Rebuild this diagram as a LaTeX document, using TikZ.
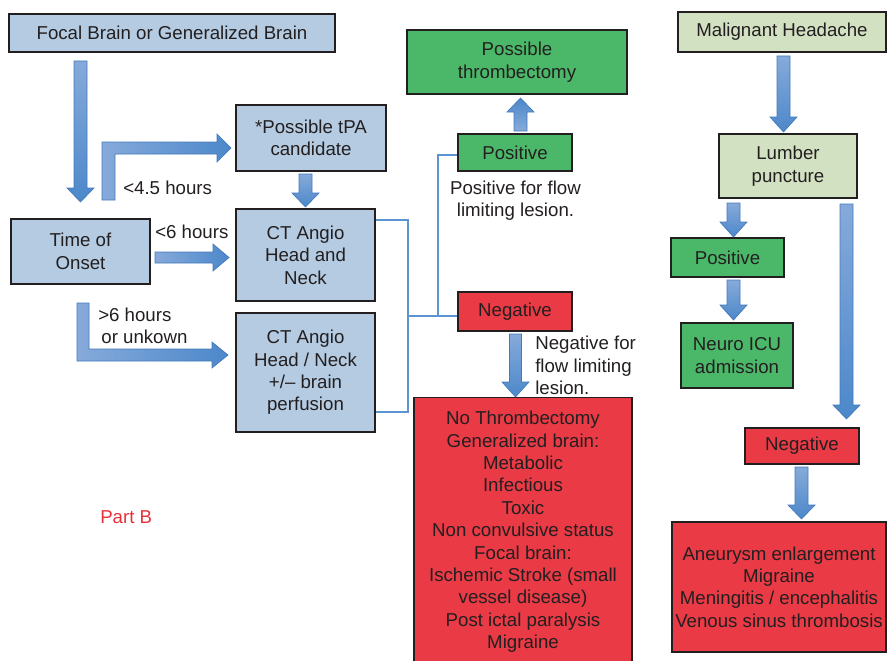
\documentclass[tikz,border=0pt]{standalone}
\usepackage{fontspec}
\setmainfont{Liberation Sans}
\definecolor{boxblue}{HTML}{B4CBE2}
\definecolor{boxgreen}{HTML}{4BB869}
\definecolor{boxred}{HTML}{E93A45}
\definecolor{boxlgreen}{HTML}{D3E1C3}
\definecolor{boxline}{HTML}{231F20}
\definecolor{arrlight}{HTML}{86AADA}
\definecolor{arrdark}{HTML}{4C88CA}
\definecolor{arredge}{HTML}{4479BA}
\definecolor{connblue}{HTML}{5B94D1}
\definecolor{partred}{HTML}{E8303A}
\newcommand\blockv[6][vshade]{%
  \shadedraw[#1] ({#2-#3},#4) -- ({#2+#3},#4) -- ({#2+#3},#5) -- ({#2+13.5},#5) -- (#2,#6) -- ({#2-13.5},#5) -- ({#2-#3},#5) -- cycle;}
\begin{document}
\begin{tikzpicture}[x=0.75pt,y=-0.75pt,
  font=\fontsize{14}{16.8}\selectfont,
  box/.style={draw=boxline, line width=1.1pt, align=center, inner sep=0pt, text=boxline},
  sz/.style 2 args={minimum width=#1*0.75pt, minimum height=#2*0.75pt},
  vshade/.style={top color=arrlight, bottom color=arrdark, draw=arredge, line width=0.5pt},
  ushade/.style={top color=arrdark, bottom color=arrlight, draw=arredge, line width=0.5pt},
  hshade/.style={left color=arrlight, right color=arrdark, draw=arredge, line width=0.5pt},
  conn/.style={draw=connblue, line width=1.5pt},
  lbl/.style={inner sep=0pt, text=boxline}]
\useasboundingbox (0,0) rectangle (887,660);

% left column boxes
\node[box, fill=boxblue, sz={326}{38}] (focal) at (172,33) {Focal Brain or Generalized Brain};
\node[box, fill=boxblue, sz={150}{66}] (tpa) at (311,138) {*Possible tPA\\candidate};
\node[box, fill=boxblue, sz={139}{65}] (onset) at (80.5,251.5) {Time of\\Onset};
\node[box, fill=boxblue, sz={139}{92}] (cta1) at (305.5,255) {CT Angio\\Head and\\Neck};
\node[box, fill=boxblue, sz={139}{119}] (cta2) at (305.5,372.5) {CT Angio\\Head / Neck\\+/-- brain\\perfusion};

% middle column
\node[box, fill=boxgreen, sz={220}{64}] (thromb) at (517,62) {Possible\\thrombectomy};
\node[box, fill=boxgreen, sz={114}{37}] (pos1) at (515,152.5) {Positive};
\node[box, fill=boxred, sz={114}{39}] (neg1) at (515,311.5) {Negative};
\node[box, fill=boxred, anchor=north, minimum width=218*0.75pt, inner ysep=10pt] (nothromb) at (523,397)
  {No Thrombectomy\\Generalized brain:\\Metabolic\\Infectious\\Toxic\\Non convulsive status\\Focal brain:\\Ischemic Stroke (small\\vessel disease)\\Post ictal paralysis\\Migraine};

% right column
\node[box, fill=boxlgreen, sz={208}{40}] (malig) at (782,32) {Malignant Headache};
\node[box, fill=boxlgreen, sz={138}{64}] (lumber) at (788,166) {Lumber\\puncture};
\node[box, fill=boxgreen, sz={113}{39}] (pos2) at (727.5,257.5) {Positive};
\node[box, fill=boxgreen, sz={112}{65}] (neuro) at (737,355.5) {Neuro ICU\\admission};
\node[box, fill=boxred, sz={114}{36}] (neg2) at (802,446) {Negative};
\node[box, fill=boxred, sz={214}{130}] (final) at (779,587) {Aneurysm enlargement\\Migraine\\Meningitis / encephalitis\\Venous sinus thrombosis};

% labels (base anchor = baseline of last line)
\node[lbl, anchor=base west] (l45) at (123,194.5) {<4.5 hours};
\node[lbl, anchor=base west] (l6) at (155,238.5) {<6 hours};
\node[lbl, anchor=base west, align=left] (lgt6) at (98,343.5) {>6 hours\\\,or unkown};
\node[lbl, anchor=base, align=center] (lpos) at (515.5,216.5) {Positive for flow\\limiting lesion.};
\node[lbl, anchor=base west, align=left] (lneg) at (535,394.5) {Negative for\\flow limiting\\lesion.};
\node[lbl, anchor=base west, text=partred] (partb) at (100,523.5) {Part B};

% block arrows
\blockv{80.5}{6.5}{61}{188}{202}
\shadedraw[hshade] (102,200) -- (102,142) -- (217,142) -- (217,134) -- (231,148) -- (217,162) -- (217,154) -- (115,154) -- (115,200) -- cycle;
\blockv{305.5}{6.5}{174}{193}{207}
\shadedraw[hshade] (155,252) -- (213,252) -- (213,244) -- (229,257.5) -- (213,271) -- (213,263) -- (155,263) -- cycle;
\shadedraw[hshade] (77,303) -- (89,303) -- (89,349) -- (212,349) -- (212,342) -- (228,355) -- (212,368) -- (212,361) -- (77,361) -- cycle;
\blockv[ushade]{520.5}{6.5}{131}{112}{98}
\blockv{515.5}{6}{334}{382}{397}
\blockv{783.5}{6.5}{56}{117}{132}
\blockv{733.5}{6.5}{203}{222}{237}
\blockv{733.5}{6.5}{280}{305}{320}
\blockv{846.5}{6.5}{204}{405}{419}
\blockv{801.5}{6.5}{467}{505}{519}

% thin connectors
\coordinate (j1) at (408,316);
\coordinate (j2) at (438,316);
\draw[conn] (cta1.east |- 0,220) -| (j1) |- (cta2.east |- 0,412);
\draw[conn] (j1) -- (neg1.west |- j1);
\draw[conn] (j2) |- (pos1.west |- 0,155);
\end{tikzpicture}
\end{document}
